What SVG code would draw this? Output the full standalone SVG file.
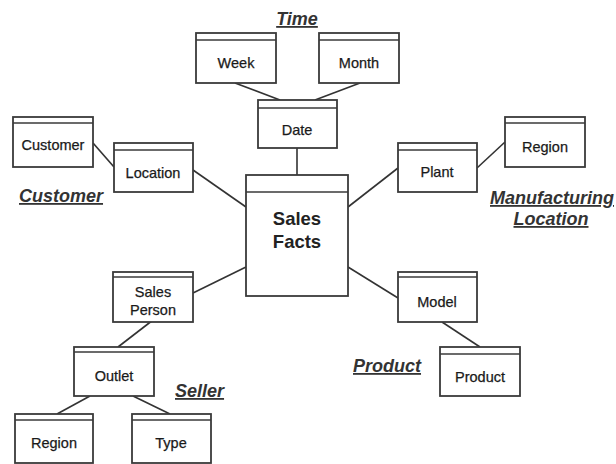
<svg xmlns="http://www.w3.org/2000/svg" width="616" height="464" viewBox="0 0 616 464">
  <style>
    .box { fill: #fff; stroke: #3a3a3a; stroke-width: 1.8; }
    .hdr { stroke: #3a3a3a; stroke-width: 1.5; fill: none; }
    .lbl { font-family: "Liberation Sans", Arial, sans-serif; font-size: 14.5px; fill: #1a1a1a; text-anchor: middle; stroke: #1a1a1a; stroke-width: 0.25; }
    .big { font-family: "Liberation Sans", Arial, sans-serif; font-size: 18.5px; font-weight: bold; fill: #222; text-anchor: middle; }
    .cat { font-family: "Liberation Sans", Arial, sans-serif; font-size: 18px; font-weight: bold; font-style: italic; fill: #333; text-decoration: underline; }
    .conn line { stroke: #333; stroke-width: 1.6; }
  </style>

  <!-- connectors -->
  <g class="conn" id="connectors">
    <line x1="235" y1="83" x2="280" y2="100"/>
    <line x1="360" y1="83" x2="315" y2="100"/>
    <line x1="297" y1="148" x2="297" y2="175"/>
    <line x1="93" y1="143" x2="114" y2="167"/>
    <line x1="193" y1="170" x2="246" y2="207"/>
    <line x1="348" y1="207" x2="398" y2="168"/>
    <line x1="477" y1="168" x2="505" y2="142"/>
    <line x1="193" y1="293" x2="246" y2="267"/>
    <line x1="153" y1="320" x2="118" y2="347"/>
    <line x1="90" y1="396" x2="57" y2="414"/>
    <line x1="133" y1="396" x2="170" y2="414"/>
    <line x1="348" y1="267" x2="398" y2="298"/>
    <line x1="442" y1="322" x2="480" y2="347"/>
  </g>

  <!-- Time dimension -->
  <g id="week">
    <rect class="box" x="196" y="33" width="80" height="50"/>
    <line class="hdr" x1="196" y1="40" x2="276" y2="40"/>
    <text class="lbl" x="236" y="68">Week</text>
  </g>
  <g id="month">
    <rect class="box" x="319" y="33" width="80" height="50"/>
    <line class="hdr" x1="319" y1="40" x2="399" y2="40"/>
    <text class="lbl" x="359" y="68">Month</text>
  </g>
  <g id="date">
    <rect class="box" x="258" y="100" width="79" height="48"/>
    <line class="hdr" x1="258" y1="108" x2="337" y2="108"/>
    <text class="lbl" x="297" y="135">Date</text>
  </g>

  <!-- Customer dimension -->
  <g id="customer">
    <rect class="box" x="13" y="117" width="80" height="50"/>
    <line class="hdr" x1="13" y1="123" x2="93" y2="123"/>
    <text class="lbl" x="53" y="150">Customer</text>
  </g>
  <g id="location">
    <rect class="box" x="114" y="143" width="79" height="49"/>
    <line class="hdr" x1="114" y1="150" x2="193" y2="150"/>
    <text class="lbl" x="153" y="178">Location</text>
  </g>

  <!-- Fact table -->
  <g id="sales-facts">
    <rect class="box" x="246" y="175" width="102" height="121"/>
    <line class="hdr" x1="246" y1="192" x2="348" y2="192"/>
    <text class="big" x="297" y="225">Sales</text>
    <text class="big" x="297" y="248">Facts</text>
  </g>

  <!-- Manufacturing location dimension -->
  <g id="plant">
    <rect class="box" x="398" y="143" width="79" height="49"/>
    <line class="hdr" x1="398" y1="150" x2="477" y2="150"/>
    <text class="lbl" x="437" y="177">Plant</text>
  </g>
  <g id="mfg-region">
    <rect class="box" x="505" y="117" width="80" height="50"/>
    <line class="hdr" x1="505" y1="123" x2="585" y2="123"/>
    <text class="lbl" x="545" y="152">Region</text>
  </g>

  <!-- Seller dimension -->
  <g id="sales-person">
    <rect class="box" x="113" y="272" width="80" height="50"/>
    <line class="hdr" x1="113" y1="277" x2="193" y2="277"/>
    <text class="lbl" x="153" y="297">Sales</text>
    <text class="lbl" x="153" y="315">Person</text>
  </g>
  <g id="outlet">
    <rect class="box" x="74" y="347" width="80" height="49"/>
    <line class="hdr" x1="74" y1="352" x2="154" y2="352"/>
    <text class="lbl" x="114" y="381">Outlet</text>
  </g>
  <g id="seller-region">
    <rect class="box" x="15" y="414" width="78" height="49"/>
    <line class="hdr" x1="15" y1="420" x2="93" y2="420"/>
    <text class="lbl" x="54" y="448">Region</text>
  </g>
  <g id="type">
    <rect class="box" x="132" y="414" width="79" height="49"/>
    <line class="hdr" x1="132" y1="420" x2="211" y2="420"/>
    <text class="lbl" x="171" y="448">Type</text>
  </g>

  <!-- Product dimension -->
  <g id="model">
    <rect class="box" x="398" y="272" width="79" height="50"/>
    <line class="hdr" x1="398" y1="277" x2="477" y2="277"/>
    <text class="lbl" x="437" y="307">Model</text>
  </g>
  <g id="product">
    <rect class="box" x="440" y="347" width="80" height="49"/>
    <line class="hdr" x1="440" y1="354" x2="520" y2="354"/>
    <text class="lbl" x="480" y="382">Product</text>
  </g>

  <!-- dimension titles -->
  <g id="titles">
    <text class="cat" x="297" y="25" text-anchor="middle">Time</text>
    <text class="cat" x="19" y="202">Customer</text>
    <text class="cat" x="490" y="204">Manufacturing</text>
    <text class="cat" x="551" y="225" text-anchor="middle">Location</text>
    <text class="cat" x="175" y="397">Seller</text>
    <text class="cat" x="353" y="372">Product</text>
  </g>
</svg>
